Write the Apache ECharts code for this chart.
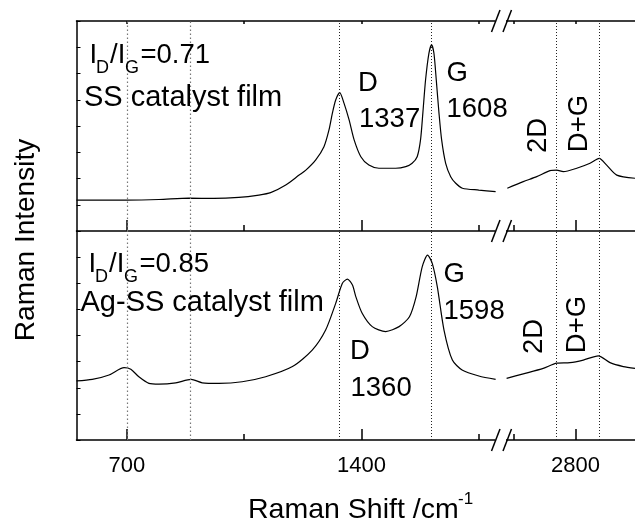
<!DOCTYPE html>
<html><head><meta charset="utf-8">
<script src="https://cdn.jsdelivr.net/npm/echarts@6/dist/echarts.min.js"></script>
<style>html,body{margin:0;padding:0;background:#fff}#c{width:635px;height:525px}</style>
</head><body><div id="c"></div>
<script>
// ---- data (Raman shift / cm-1, intensity a.u.) ----
const ssLeftShift = [550, 617, 697, 796, 885, 960, 1034, 1094, 1129, 1174, 1214, 1234, 1263, 1288, 1303, 1313, 1323, 1335, 1348, 1363, 1378, 1398, 1422, 1452, 1502, 1532, 1551, 1566, 1576, 1583, 1591, 1601, 1609, 1616, 1623, 1631, 1639, 1651, 1666, 1681, 1701, 1750, 1800];
const ssLeftIntensity = [1.18, 1.18, 1.18, 1.20, 1.25, 1.24, 1.28, 1.37, 1.46, 1.75, 2.13, 2.32, 2.70, 3.21, 3.85, 4.48, 4.99, 5.27, 4.86, 4.23, 3.47, 2.83, 2.51, 2.39, 2.39, 2.45, 2.58, 2.83, 3.47, 4.50, 5.75, 6.77, 7.09, 6.77, 5.75, 4.50, 3.47, 2.58, 2.07, 1.82, 1.63, 1.56, 1.50];
const ssRightShift = [2415, 2505, 2581, 2656, 2694, 2731, 2807, 2882, 2934, 2976, 3033, 3136];
const ssRightIntensity = [1.63, 1.88, 2.07, 2.30, 2.32, 2.26, 2.39, 2.58, 2.77, 2.51, 2.13, 2.01];

const agLeftShift = [550, 597, 647, 692, 712, 736, 766, 796, 846, 892, 925, 975, 1044, 1114, 1194, 1253, 1293, 1323, 1343, 1358, 1373, 1383, 1402, 1432, 1472, 1512, 1543, 1563, 1581, 1597, 1611, 1626, 1646, 1671, 1700, 1750, 1800];
const agLeftIntensity = [2.26, 2.32, 2.49, 2.77, 2.71, 2.42, 2.17, 2.14, 2.19, 2.32, 2.19, 2.17, 2.23, 2.42, 2.81, 3.44, 4.21, 5.23, 6.00, 6.16, 5.93, 5.49, 4.85, 4.34, 4.15, 4.34, 4.72, 5.49, 6.63, 7.08, 6.76, 5.87, 4.21, 3.06, 2.68, 2.45, 2.32];
const agRightShift = [2411, 2505, 2618, 2694, 2769, 2844, 2929, 2995, 3070, 3136];
const agRightIntensity = [2.36, 2.53, 2.74, 2.94, 2.96, 3.06, 3.22, 2.96, 2.81, 2.74];

const guideLinesLeft = [700, 890, 1335, 1608];
const guideLinesRight = [2689, 2933];
const majorTicksLeft = [700, 1400];
const minorTicksLeft = [1050, 1750];
const majorTicksRight = [2800];
const minorTicksRight = [2450];
const tickLabelsLeft = [700, 1400];
const tickLabelsRight = [2800];

// ---- layout ----
const FONT = '"Liberation Sans", Arial, sans-serif';
const L = 76.5, BRK = 502, R = 635, T = 21, MID = 231, B = 440;

const chart = echarts.init(document.getElementById('c'), null, {renderer: 'canvas'});

function pairs(xs, ys) { return xs.map((x, i) => [x, ys[i]]); }

function xAx(gridIndex, min, max, pos, tickVals, tickLen, showLine, labelVals) {
  const lab = {show: !!labelVals, color: '#000', fontSize: 22, fontFamily: FONT, margin: 15, formatter: v => String(v)};
  if (labelVals) lab.customValues = labelVals;
  return {
    type: 'value', gridIndex, min, max, position: pos,
    axisLine: {show: showLine, onZero: false, lineStyle: {color: '#000', width: 1.5}},
    axisTick: {show: tickVals.length > 0, inside: true, length: tickLen, customValues: tickVals, lineStyle: {color: '#000', width: 1.5}},
    axisLabel: lab,
    splitLine: {show: false}
  };
}
function yAx(gridIndex, show) {
  return {
    type: 'value', gridIndex, min: 0, max: 8, interval: 1, show,
    axisLine: {show: true, lineStyle: {color: '#000', width: 1.5}},
    axisTick: {show: true, inside: true, length: 4, lineStyle: {color: '#000', width: 1}},
    axisLabel: {show: false}, splitLine: {show: false}
  };
}
function guides(vals) {
  return {
    silent: true, symbol: ['none', 'none'], label: {show: false}, animation: false,
    data: vals.map(v => ({
      xAxis: v,
      lineStyle: (v < 1000) ? {color: '#777', type: [1.5, 2.5], width: 1.2} : {color: '#222', type: [1, 2], width: 1}
    }))
  };
}
function curve(xi, yi, xs, ys, g) {
  return {
    type: 'line', xAxisIndex: xi, yAxisIndex: yi, data: pairs(xs, ys),
    showSymbol: false, smooth: 0.25, lineStyle: {color: '#000', width: 1.2},
    markLine: guides(g), z: 3
  };
}

const leftMin = 550, leftMax = 1819, rightMin = 2385, rightMax = 3136;

const grids = [
  {left: L, top: T, width: BRK - L, height: MID - T},
  {left: BRK, top: T, width: R - BRK, height: MID - T},
  {left: L, top: MID, width: BRK - L, height: B - MID},
  {left: BRK, top: MID, width: R - BRK, height: B - MID}
].map(g => Object.assign(g, {outerBoundsMode: 'none', containLabel: false}));

const xAxes = [
  xAx(0, leftMin, leftMax, 'bottom', majorTicksLeft, 11, true),          // 0
  xAx(0, leftMin, leftMax, 'bottom', minorTicksLeft, 6, false),          // 1
  xAx(0, leftMin, leftMax, 'top', majorTicksLeft.concat(minorTicksLeft), 3, true), // 2
  xAx(1, rightMin, rightMax, 'bottom', majorTicksRight, 11, true),       // 3
  xAx(1, rightMin, rightMax, 'bottom', minorTicksRight, 6, false),       // 4
  xAx(1, rightMin, rightMax, 'top', majorTicksRight.concat(minorTicksRight), 3, true), // 5
  xAx(2, leftMin, leftMax, 'bottom', majorTicksLeft, 11, true, tickLabelsLeft),    // 6
  xAx(2, leftMin, leftMax, 'bottom', minorTicksLeft, 6, false),          // 7
  xAx(3, rightMin, rightMax, 'bottom', majorTicksRight, 11, true, tickLabelsRight), // 8
  xAx(3, rightMin, rightMax, 'bottom', minorTicksRight, 6, false)        // 9
];
const yAxes = [yAx(0, true), yAx(1, false), yAx(2, true), yAx(3, false)];

function txt(x, y, s, size, extra) {
  return Object.assign({
    type: 'text', x, y, z: 100,
    style: {text: s, fontSize: size, fontFamily: FONT, fill: '#000', align: 'left', verticalAlign: 'middle'}
  }, extra || {});
}
function rot(x, y, s, size) {
  return {type: 'text', x, y, rotation: Math.PI / 2, z: 100,
    style: {text: s, fontSize: size, fontFamily: FONT, fill: '#000', align: 'center', verticalAlign: 'middle'}};
}
function breakMark(y) {
  return [
    {type: 'rect', z: 90, shape: {x: 495, y: y - 3, width: 11, height: 6}, style: {fill: '#fff'}},
    {type: 'line', z: 91, shape: {x1: 491.5, y1: y + 11, x2: 500, y2: y - 11}, style: {stroke: '#000', lineWidth: 1.5}},
    {type: 'line', z: 91, shape: {x1: 503, y1: y + 11, x2: 511.5, y2: y - 11}, style: {stroke: '#000', lineWidth: 1.5}}
  ];
}

const F = 27.5, FS = 18, FL = 29;
const graphics = [
  // upper panel annotation
  txt(89.5, 55, 'I', F), txt(96, 68, 'D', FS), txt(110, 55, '/I', F), txt(125, 68, 'G', FS), txt(140.5, 55, '=0.71', F),
  txt(84, 97.5, 'SS catalyst film', FL),
  txt(358, 83.5, 'D', F), txt(359, 119, '1337', F),
  txt(446.5, 73.5, 'G', F), txt(446.5, 109, '1608', F),
  rot(538, 135.5, '2D', F), rot(579, 123.5, 'D+G', F),
  // lower panel annotation
  txt(88.5, 264, 'I', F), txt(95, 277, 'D', FS), txt(109, 264, '/I', F), txt(124, 277, 'G', FS), txt(139.5, 264, '=0.85', F),
  txt(80.5, 303, 'Ag-SS catalyst film', FL),
  txt(350, 351, 'D', F), txt(350.5, 388, '1360', F),
  txt(443.5, 274, 'G', F), txt(443.5, 311, '1598', F),
  rot(534.5, 336.5, '2D', F), rot(577, 324.5, 'D+G', F),
  // axis titles
  rot(26.5, 240, 'Raman Intensity', 28),
  txt(248, 510, 'Raman Shift /cm', 28.5), txt(458, 499, '-1', 17)
].concat(breakMark(T), breakMark(MID), breakMark(B));

chart.setOption({
  animation: false,
  backgroundColor: '#fff',
  grid: grids,
  xAxis: xAxes,
  yAxis: yAxes,
  series: [
    curve(0, 0, ssLeftShift, ssLeftIntensity, guideLinesLeft),
    curve(3, 1, ssRightShift, ssRightIntensity, guideLinesRight),
    curve(6, 2, agLeftShift, agLeftIntensity, guideLinesLeft),
    curve(8, 3, agRightShift, agRightIntensity, guideLinesRight)
  ],
  graphic: graphics
});
</script>
</body></html>
